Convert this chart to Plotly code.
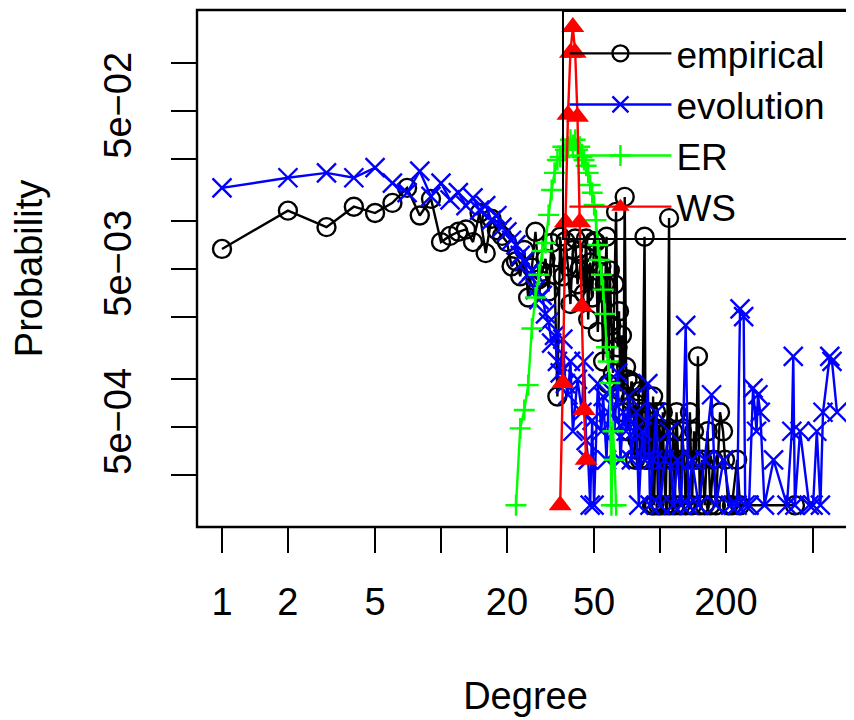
import plotly.graph_objects as go

# ---------------- data ----------------
emp_deg = [1, 2, 3, 4, 5, 6, 7, 8, 9, 10, 11, 12, 13, 14, 15, 16, 17, 18, 19, 20,
           21, 22, 23, 24, 25, 26, 27, 28, 29, 30, 31, 32, 33, 34, 35, 36, 37, 38, 39, 40,
           41, 42, 43, 44, 45, 46, 47, 48, 49, 50, 51, 52, 53, 54, 55, 56, 57, 58, 59, 60,
           61, 62, 63, 64, 65, 66, 67, 68, 69, 70, 71, 72, 73, 74, 75, 76, 77, 78, 79, 80,
           81, 82, 83, 85, 86, 87, 88, 89, 91, 92, 93, 94, 95, 96, 98, 99, 100, 101, 103, 104,
           106, 108, 110, 111, 113, 115, 117, 119, 121, 124, 126, 129, 131, 134, 137, 140, 143, 146, 149, 152,
           156, 160, 165, 170, 175, 180, 188, 194, 198, 205, 213, 225, 232, 413]
emp_prob = [0.0067, 0.0117, 0.0092, 0.0124, 0.0113, 0.0131, 0.0163, 0.0109, 0.0139, 0.0074,
            0.0081, 0.0086, 0.0089, 0.0074, 0.0113, 0.0063, 0.0104, 0.0088, 0.0081, 0.0074,
            0.0052, 0.0056, 0.0045, 0.0066, 0.0033, 0.0051, 0.0086, 0.0043, 0.0048, 0.0058,
            0.0036, 0.0073, 0.0046, 0.00078, 0.0080, 0.0045, 0.0075, 0.0052, 0.0030, 0.0066,
            0.0078, 0.0040, 0.0050, 0.0062, 0.0035, 0.0078, 0.0024, 0.0055, 0.0033, 0.0075,
            0.0074, 0.0020, 0.0048, 0.0052, 0.0013, 0.0040, 0.0080, 0.00094, 0.0049, 0.0022,
            0.0011, 0.0040, 0.0115, 0.0016, 0.0027, 0.00084, 0.0019, 0.00062, 0.0143, 0.0012,
            0.0010, 0.00047, 0.00074, 0.00097, 0.00094, 0.00055, 0.00031, 0.00070, 0.00041, 0.00084,
            0.00031, 0.00062, 0.00047, 0.0080, 0.00031, 0.00055, 0.00031, 0.00062, 0.00047, 0.00016,
            0.00078, 0.00016, 0.00047, 0.00062, 0.00016, 0.00031, 0.00047, 0.00016, 0.00062, 0.00031,
            0.00016, 0.00047, 0.0105, 0.00016, 0.00031, 0.00047, 0.00016, 0.00062, 0.00031, 0.00016,
            0.00047, 0.00031, 0.00016, 0.00031, 0.00062, 0.00016, 0.00047, 0.00031, 0.0014, 0.00016,
            0.00031, 0.00016, 0.00047, 0.00016, 0.00031, 0.00016, 0.00062, 0.00047, 0.00031, 0.00016,
            0.00016, 0.00031, 0.00016, 0.00016]

evo_deg = [1, 2, 3, 4, 5, 6, 7, 8, 9, 10, 11, 12, 13, 14, 15, 16, 17, 18, 19, 20,
           21, 22, 23, 24, 25, 26, 27, 28, 29, 30, 31, 32, 33, 34, 35, 36, 37, 38, 39, 40,
           42, 44, 45, 46, 47, 48, 49, 50, 52, 54, 55, 57, 58, 60, 62, 64, 66, 68, 70, 72,
           74, 76, 78, 80, 83, 85, 88, 90, 93, 96, 100, 105, 110, 115, 120, 125, 131, 135, 140, 150,
           160, 172, 180, 195, 210, 225, 232, 241, 245, 255, 266, 276, 280, 287, 300, 330, 380, 400,
           406, 413, 436, 480, 500, 520, 540, 555, 596, 610, 643]
evo_prob = [0.0163, 0.0189, 0.0203, 0.0189, 0.0219, 0.0175, 0.0152, 0.0208, 0.0144, 0.0175,
            0.0137, 0.0152, 0.0126, 0.0141, 0.0118, 0.0126, 0.0102, 0.0109, 0.0092, 0.0086,
            0.0076, 0.0071, 0.0061, 0.0056, 0.0046, 0.0049, 0.0037, 0.0032, 0.0034, 0.0026,
            0.0023, 0.0017, 0.0019, 0.0013, 0.0011, 0.0018, 0.00094, 0.00080, 0.0013, 0.00047,
            0.0010, 0.00062, 0.0013, 0.00041, 0.00031, 0.00016, 0.00055, 0.00016, 0.00094, 0.00047,
            0.00078, 0.00031, 0.00062, 0.00084, 0.00047, 0.0011, 0.00031, 0.00062, 0.00047, 0.00078,
            0.00031, 0.00047, 0.00062, 0.00016, 0.00047, 0.00031, 0.00094, 0.00016, 0.00031, 0.00062,
            0.00016, 0.00031, 0.00047, 0.00016, 0.00031, 0.00016, 0.0022, 0.00016, 0.00031, 0.00016,
            0.00031, 0.00080, 0.00016, 0.00031, 0.00016, 0.00016, 0.0028, 0.0025, 0.00016, 0.00016,
            0.00088, 0.00047, 0.00080, 0.00062, 0.00016, 0.00031, 0.00016, 0.00047,
            0.0014, 0.00016, 0.00047, 0.00016, 0.00016, 0.00047, 0.00016, 0.00062, 0.0014, 0.0013, 0.00062]

er_deg = [22, 23, 24, 25, 26, 27, 28, 29, 30, 31, 32, 33, 34, 35, 36, 37, 38, 39, 40, 41,
          42, 43, 44, 45, 46, 47, 48, 49, 50, 51, 52, 53, 54, 55, 56, 57, 58, 59, 60, 61,
          62, 63]
er_prob = [0.00016, 0.00049, 0.00064, 0.00092, 0.0021, 0.0033, 0.0046, 0.0065, 0.0073, 0.0110,
           0.0158, 0.0203, 0.0245, 0.0256, 0.0297, 0.0284, 0.0297, 0.0329, 0.0305, 0.0329,
           0.0284, 0.0297, 0.0256, 0.0245, 0.0225, 0.0203, 0.0170, 0.0152, 0.0127, 0.0102,
           0.0071, 0.0057, 0.0046, 0.0037, 0.0026, 0.0016, 0.0013, 0.00095, 0.00016, 0.00047,
           0.00031, 0.00016]

ws_deg = [35, 36, 37, 38, 39, 40, 41, 42, 43, 44, 45, 46]
ws_prob = [0.00016, 0.00095, 0.0099, 0.0473, 0.117, 0.170, 0.117, 0.046, 0.0099, 0.0029,
           0.00064, 0.00031]

x_tickvals = [1, 2, 5, 10, 20, 50, 100, 200, 500]
x_ticktext = ["1", "2", "5", "", "20", "50", "", "200", ""]
y_tickvals = [0.1, 0.05, 0.025, 0.01, 0.005, 0.0025, 0.001, 0.0005, 0.00025]
y_ticktext = ["", "5e\u221202", "", "", "5e\u221203", "", "", "5e\u221204", ""]

# ---------------- figure ----------------
FONT = "Liberation Sans, Arial, Helvetica, sans-serif"
LW = 2.4

fig = go.Figure()
fig.add_trace(go.Scatter(
    x=emp_deg, y=emp_prob, mode="lines+markers", name="empirical",
    line=dict(color="black", width=LW),
    marker=dict(symbol="circle-open", size=18, color="black", line=dict(width=LW, color="black")),
))
fig.add_trace(go.Scatter(
    x=evo_deg, y=evo_prob, mode="lines+markers", name="evolution",
    line=dict(color="#0000FF", width=LW),
    marker=dict(symbol="x-thin-open", size=19, color="#0000FF", line=dict(width=LW, color="#0000FF")),
))
fig.add_trace(go.Scatter(
    x=er_deg, y=er_prob, mode="lines+markers", name="ER",
    line=dict(color="#00FF00", width=LW),
    marker=dict(symbol="cross-thin-open", size=15, color="#00FF00", line=dict(width=LW, color="#00FF00")),
))
fig.add_trace(go.Scatter(
    x=ws_deg, y=ws_prob, mode="lines+markers", name="WS",
    line=dict(color="#FF0000", width=LW),
    marker=dict(symbol="triangle-up", size=20, color="#FF0000", line=dict(width=0)),
))

fig.update_layout(
    width=854, height=720,
    margin=dict(l=189, r=8, t=2, b=201, pad=0, autoexpand=False),
    paper_bgcolor="white", plot_bgcolor="white",
    font=dict(family=FONT, size=38, color="black"),
    showlegend=True,
    legend=dict(
        x=0.5556, y=1, xanchor="left", yanchor="top",
        bordercolor="black", borderwidth=LW, bgcolor="rgba(0,0,0,0)",
        font=dict(family=FONT, size=37, color="black"),
        itemwidth=102, tracegroupgap=0,
        title=dict(text="\u00a0" * 127, font=dict(family=FONT, size=8, color="black")),
    ),
    xaxis=dict(
        type="log", range=[-0.11416, 2.88584],
        tickmode="array", tickvals=x_tickvals, ticktext=x_ticktext,
        ticks="outside", ticklen=25, tickwidth=LW, tickcolor="black",
        ticklabelstandoff=16,
        showgrid=False, zeroline=False, showline=False, automargin=False,
        tickfont=dict(family=FONT, size=38, color="black"),
        title=dict(text="Degree", standoff=60, font=dict(family=FONT, size=38, color="black")),
    ),
    yaxis=dict(
        type="log", range=[-3.93394, -0.66179],
        tickmode="array", tickvals=y_tickvals, ticktext=y_ticktext,
        tickangle=-90,
        ticks="outside", ticklen=25, tickwidth=LW, tickcolor="black",
        ticklabelstandoff=25,
        showgrid=False, zeroline=False, showline=False, automargin=False,
        tickfont=dict(family=FONT, size=38, color="black"),
        title=dict(text="Probability", standoff=58, font=dict(family=FONT, size=38, color="black")),
    ),
    shapes=[dict(type="rect", xref="paper", yref="paper", x0=0, x1=1.2, y0=0, y1=1,
                 line=dict(color="black", width=LW), fillcolor="rgba(0,0,0,0)", layer="above")],
)

fig.write_html("out.html")
